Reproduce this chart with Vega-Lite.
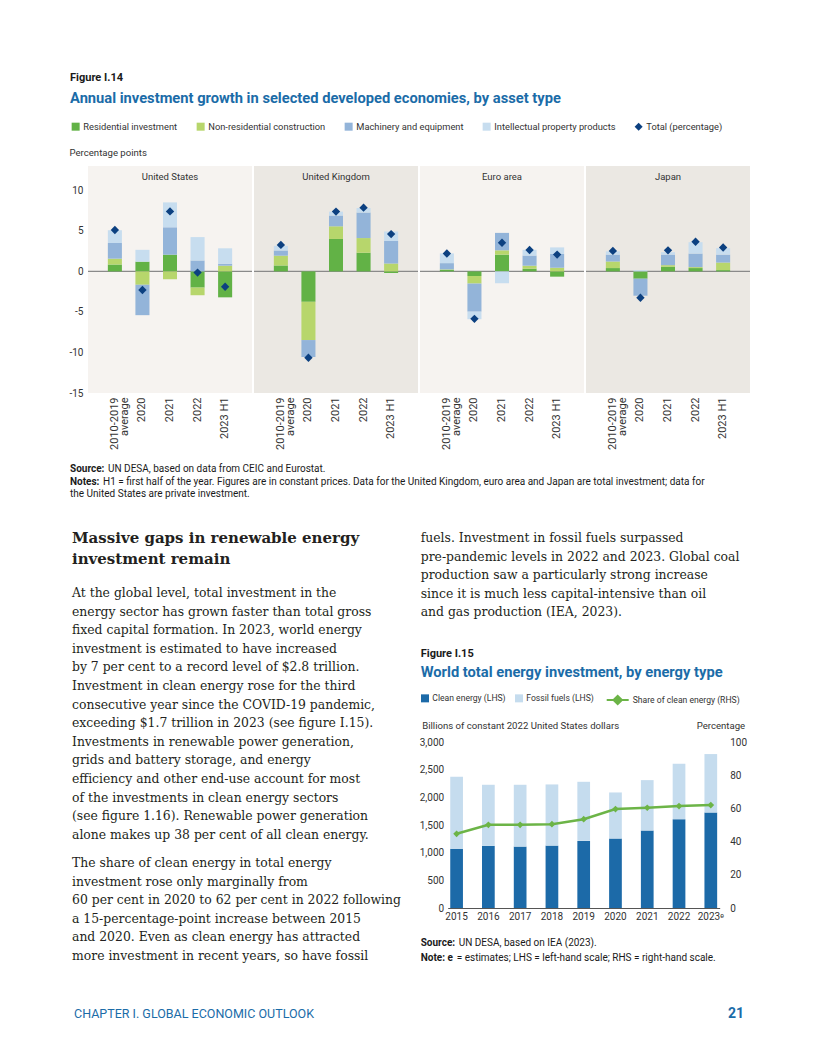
{
  "$schema": "https://vega.github.io/schema/vega-lite/v6.json",
  "background": "white",
  "padding": {"left": 68, "top": 71, "right": 4, "bottom": 4},
  "config": {
    "font": "Roboto, sans-serif",
    "view": {"stroke": null},
    "axis": {"domain": false, "ticks": false, "grid": false, "labelColor": "#333333", "titleColor": "#333333", "labelFontSize": 10, "titleFontSize": 9.6, "titleFontWeight": "normal"},
    "legend": {"labelColor": "#333333", "labelFontSize": 9.3}
  },
  "resolve": {"scale": {"color": "independent", "stroke": "independent"}, "legend": {"color": "independent", "stroke": "independent"}},
  "align": "each",
  "spacing": 0,
  "vconcat": [
    {"width": 1, "height": 1, "data": {"values": []}, "mark": "point",
     "title": {"text": "Figure I.14", "subtitle": "Annual investment growth in selected developed economies, by asset type", "orient": "top", "anchor": "start", "frame": "group", "dx": -18, "offset": 15.5, "fontSize": 11, "fontWeight": "bold", "color": "#1a1a1a", "subtitleFontSize": 14.7, "subtitleFontWeight": "bold", "subtitleColor": "#1b6ca8", "subtitlePadding": 8}},
    {
      "data": {"values": [
        {"country": "United States", "kind": "panel"},
        {"country": "United Kingdom", "kind": "panel"},
        {"country": "Euro area", "kind": "panel"},
        {"country": "Japan", "kind": "panel"},
        {"country": "United States", "kind": "bar", "period": "2010-2019 average", "type": "Residential investment", "value": 0.85},
        {"country": "United States", "kind": "bar", "period": "2010-2019 average", "type": "Non-residential construction", "value": 0.72},
        {"country": "United States", "kind": "bar", "period": "2010-2019 average", "type": "Machinery and equipment", "value": 1.93},
        {"country": "United States", "kind": "bar", "period": "2010-2019 average", "type": "Intellectual property products", "value": 1.58},
        {"country": "United States", "kind": "bar", "period": "2020", "type": "Residential investment", "value": 1.2},
        {"country": "United States", "kind": "bar", "period": "2020", "type": "Non-residential construction", "value": -1.65},
        {"country": "United States", "kind": "bar", "period": "2020", "type": "Machinery and equipment", "value": -3.75},
        {"country": "United States", "kind": "bar", "period": "2020", "type": "Intellectual property products", "value": 1.46},
        {"country": "United States", "kind": "bar", "period": "2021", "type": "Residential investment", "value": 2.06},
        {"country": "United States", "kind": "bar", "period": "2021", "type": "Non-residential construction", "value": -0.97},
        {"country": "United States", "kind": "bar", "period": "2021", "type": "Machinery and equipment", "value": 3.38},
        {"country": "United States", "kind": "bar", "period": "2021", "type": "Intellectual property products", "value": 3.07},
        {"country": "United States", "kind": "bar", "period": "2022", "type": "Residential investment", "value": -2.0},
        {"country": "United States", "kind": "bar", "period": "2022", "type": "Non-residential construction", "value": -0.94},
        {"country": "United States", "kind": "bar", "period": "2022", "type": "Machinery and equipment", "value": 1.35},
        {"country": "United States", "kind": "bar", "period": "2022", "type": "Intellectual property products", "value": 2.88},
        {"country": "United States", "kind": "bar", "period": "2023 H1", "type": "Residential investment", "value": -3.2},
        {"country": "United States", "kind": "bar", "period": "2023 H1", "type": "Non-residential construction", "value": 0.7},
        {"country": "United States", "kind": "bar", "period": "2023 H1", "type": "Machinery and equipment", "value": 0.25},
        {"country": "United States", "kind": "bar", "period": "2023 H1", "type": "Intellectual property products", "value": 1.9},
        {"country": "United Kingdom", "kind": "bar", "period": "2010-2019 average", "type": "Residential investment", "value": 0.73},
        {"country": "United Kingdom", "kind": "bar", "period": "2010-2019 average", "type": "Non-residential construction", "value": 1.21},
        {"country": "United Kingdom", "kind": "bar", "period": "2010-2019 average", "type": "Machinery and equipment", "value": 0.64},
        {"country": "United Kingdom", "kind": "bar", "period": "2010-2019 average", "type": "Intellectual property products", "value": 0.57},
        {"country": "United Kingdom", "kind": "bar", "period": "2020", "type": "Residential investment", "value": -3.75},
        {"country": "United Kingdom", "kind": "bar", "period": "2020", "type": "Non-residential construction", "value": -4.72},
        {"country": "United Kingdom", "kind": "bar", "period": "2020", "type": "Machinery and equipment", "value": -2.09},
        {"country": "United Kingdom", "kind": "bar", "period": "2021", "type": "Residential investment", "value": 4.0},
        {"country": "United Kingdom", "kind": "bar", "period": "2021", "type": "Non-residential construction", "value": 1.56},
        {"country": "United Kingdom", "kind": "bar", "period": "2021", "type": "Machinery and equipment", "value": 1.33},
        {"country": "United Kingdom", "kind": "bar", "period": "2021", "type": "Intellectual property products", "value": 0.48},
        {"country": "United Kingdom", "kind": "bar", "period": "2022", "type": "Residential investment", "value": 2.3},
        {"country": "United Kingdom", "kind": "bar", "period": "2022", "type": "Non-residential construction", "value": 1.81},
        {"country": "United Kingdom", "kind": "bar", "period": "2022", "type": "Machinery and equipment", "value": 3.15},
        {"country": "United Kingdom", "kind": "bar", "period": "2022", "type": "Intellectual property products", "value": 0.56},
        {"country": "United Kingdom", "kind": "bar", "period": "2023 H1", "type": "Residential investment", "value": -0.2},
        {"country": "United Kingdom", "kind": "bar", "period": "2023 H1", "type": "Non-residential construction", "value": 0.97},
        {"country": "United Kingdom", "kind": "bar", "period": "2023 H1", "type": "Machinery and equipment", "value": 2.78},
        {"country": "United Kingdom", "kind": "bar", "period": "2023 H1", "type": "Intellectual property products", "value": 1.17},
        {"country": "Euro area", "kind": "bar", "period": "2010-2019 average", "type": "Residential investment", "value": 0.2},
        {"country": "Euro area", "kind": "bar", "period": "2010-2019 average", "type": "Non-residential construction", "value": 0.05},
        {"country": "Euro area", "kind": "bar", "period": "2010-2019 average", "type": "Machinery and equipment", "value": 0.77},
        {"country": "Euro area", "kind": "bar", "period": "2010-2019 average", "type": "Intellectual property products", "value": 1.2},
        {"country": "Euro area", "kind": "bar", "period": "2020", "type": "Residential investment", "value": -0.57},
        {"country": "Euro area", "kind": "bar", "period": "2020", "type": "Non-residential construction", "value": -0.93},
        {"country": "Euro area", "kind": "bar", "period": "2020", "type": "Machinery and equipment", "value": -3.47},
        {"country": "Euro area", "kind": "bar", "period": "2020", "type": "Intellectual property products", "value": -0.93},
        {"country": "Euro area", "kind": "bar", "period": "2021", "type": "Residential investment", "value": 2.07},
        {"country": "Euro area", "kind": "bar", "period": "2021", "type": "Non-residential construction", "value": 0.53},
        {"country": "Euro area", "kind": "bar", "period": "2021", "type": "Machinery and equipment", "value": 2.15},
        {"country": "Euro area", "kind": "bar", "period": "2021", "type": "Intellectual property products", "value": -1.46},
        {"country": "Euro area", "kind": "bar", "period": "2022", "type": "Residential investment", "value": 0.33},
        {"country": "Euro area", "kind": "bar", "period": "2022", "type": "Non-residential construction", "value": 0.37},
        {"country": "Euro area", "kind": "bar", "period": "2022", "type": "Machinery and equipment", "value": 1.26},
        {"country": "Euro area", "kind": "bar", "period": "2022", "type": "Intellectual property products", "value": 0.7},
        {"country": "Euro area", "kind": "bar", "period": "2023 H1", "type": "Residential investment", "value": -0.65},
        {"country": "Euro area", "kind": "bar", "period": "2023 H1", "type": "Non-residential construction", "value": 0.45},
        {"country": "Euro area", "kind": "bar", "period": "2023 H1", "type": "Machinery and equipment", "value": 1.7},
        {"country": "Euro area", "kind": "bar", "period": "2023 H1", "type": "Intellectual property products", "value": 0.81},
        {"country": "Japan", "kind": "bar", "period": "2010-2019 average", "type": "Residential investment", "value": 0.41},
        {"country": "Japan", "kind": "bar", "period": "2010-2019 average", "type": "Non-residential construction", "value": 0.81},
        {"country": "Japan", "kind": "bar", "period": "2010-2019 average", "type": "Machinery and equipment", "value": 0.85},
        {"country": "Japan", "kind": "bar", "period": "2010-2019 average", "type": "Intellectual property products", "value": 0.4},
        {"country": "Japan", "kind": "bar", "period": "2020", "type": "Residential investment", "value": -0.9},
        {"country": "Japan", "kind": "bar", "period": "2020", "type": "Machinery and equipment", "value": -2.1},
        {"country": "Japan", "kind": "bar", "period": "2020", "type": "Intellectual property products", "value": 0.15},
        {"country": "Japan", "kind": "bar", "period": "2021", "type": "Residential investment", "value": 0.57},
        {"country": "Japan", "kind": "bar", "period": "2021", "type": "Non-residential construction", "value": 0.2},
        {"country": "Japan", "kind": "bar", "period": "2021", "type": "Machinery and equipment", "value": 1.3},
        {"country": "Japan", "kind": "bar", "period": "2021", "type": "Intellectual property products", "value": 0.3},
        {"country": "Japan", "kind": "bar", "period": "2022", "type": "Residential investment", "value": 0.41},
        {"country": "Japan", "kind": "bar", "period": "2022", "type": "Non-residential construction", "value": 0.12},
        {"country": "Japan", "kind": "bar", "period": "2022", "type": "Machinery and equipment", "value": 1.67},
        {"country": "Japan", "kind": "bar", "period": "2022", "type": "Intellectual property products", "value": 1.4},
        {"country": "Japan", "kind": "bar", "period": "2023 H1", "type": "Residential investment", "value": 0.16},
        {"country": "Japan", "kind": "bar", "period": "2023 H1", "type": "Non-residential construction", "value": 0.93},
        {"country": "Japan", "kind": "bar", "period": "2023 H1", "type": "Machinery and equipment", "value": 0.98},
        {"country": "Japan", "kind": "bar", "period": "2023 H1", "type": "Intellectual property products", "value": 0.8},
        {"country": "United States", "kind": "total", "period": "2010-2019 average", "value": 5.1},
        {"country": "United States", "kind": "total", "period": "2020", "value": -2.3},
        {"country": "United States", "kind": "total", "period": "2021", "value": 7.4},
        {"country": "United States", "kind": "total", "period": "2022", "value": -0.15},
        {"country": "United States", "kind": "total", "period": "2023 H1", "value": -1.9},
        {"country": "United Kingdom", "kind": "total", "period": "2010-2019 average", "value": 3.27},
        {"country": "United Kingdom", "kind": "total", "period": "2020", "value": -10.65},
        {"country": "United Kingdom", "kind": "total", "period": "2021", "value": 7.38},
        {"country": "United Kingdom", "kind": "total", "period": "2022", "value": 7.86},
        {"country": "United Kingdom", "kind": "total", "period": "2023 H1", "value": 4.6},
        {"country": "Euro area", "kind": "total", "period": "2010-2019 average", "value": 2.2},
        {"country": "Euro area", "kind": "total", "period": "2020", "value": -5.85},
        {"country": "Euro area", "kind": "total", "period": "2021", "value": 3.54},
        {"country": "Euro area", "kind": "total", "period": "2022", "value": 2.64},
        {"country": "Euro area", "kind": "total", "period": "2023 H1", "value": 2.07},
        {"country": "Japan", "kind": "total", "period": "2010-2019 average", "value": 2.53},
        {"country": "Japan", "kind": "total", "period": "2020", "value": -3.25},
        {"country": "Japan", "kind": "total", "period": "2021", "value": 2.6},
        {"country": "Japan", "kind": "total", "period": "2022", "value": 3.65},
        {"country": "Japan", "kind": "total", "period": "2023 H1", "value": 2.95}
      ]},
      "facet": {"column": {"field": "country", "type": "nominal", "sort": ["United States", "United Kingdom", "Euro area", "Japan"], "header": {"title": null, "labels": false}}},
      "spacing": 0,
      "spec": {
        "width": 164,
        "height": 227,
        "layer": [
          {
            "transform": [{"filter": "datum.kind === 'panel'"}],
            "mark": {"type": "rect"},
            "encoding": {
              "y": {"datum": -15, "type": "quantitative", "scale": {"domain": [-15, 13], "nice": false, "zero": false}, "axis": {"title": "Percentage points", "titleAngle": 0, "titleAlign": "left", "titleBaseline": "alphabetic", "titleX": -18, "titleY": -11, "values": [-15, -10, -5, 0, 5, 10], "labelExpr": "datum.value < 0 ? '-' + abs(datum.value) : '' + datum.value", "labelPadding": 4}},
              "y2": {"datum": 13},
              "color": {"condition": {"test": "datum.country === 'United Kingdom' || datum.country === 'Japan'", "value": "#ebe8e3"}, "value": "#f6f3f0"}
            }
          },
          {
            "transform": [{"filter": "datum.kind === 'panel'"}],
            "mark": {"type": "text", "fontSize": 9.5, "color": "#333333", "baseline": "middle"},
            "encoding": {"y": {"datum": 11.7, "type": "quantitative"}, "text": {"field": "country"}}
          },
          {
            "transform": [{"filter": "datum.kind === 'panel'"}],
            "mark": {"type": "rule", "color": "#8a8a8a", "strokeWidth": 1.2},
            "encoding": {"y": {"datum": 0, "type": "quantitative"}}
          },
          {
            "transform": [{"filter": "datum.kind === 'bar'"}],
            "mark": {"type": "bar"},
            "encoding": {
              "x": {"field": "period", "type": "nominal", "sort": ["2010-2019 average", "2020", "2021", "2022", "2023 H1"], "scale": {"paddingInner": 0.49, "paddingOuter": 0.72}, "axis": {"title": null, "labelAngle": -90, "labelExpr": "datum.value === '2010-2019 average' ? ['2010-2019', 'average'] : datum.label", "labelPadding": 4, "labelFontSize": 11, "labelLineHeight": 10.5}},
              "y": {"field": "value", "type": "quantitative", "stack": "zero"},
              "color": {
                "field": "type",
                "type": "nominal",
                "scale": {"domain": ["Residential investment", "Non-residential construction", "Machinery and equipment", "Intellectual property products", "Total (percentage)"], "range": ["#62b246", "#b7d66c", "#93b4d9", "#c7ddef", "#0c4080"]},
                "legend": {
                  "orient": "none", "legendX": -17, "legendY": -44, "direction": "horizontal", "title": null, "symbolType": "square", "symbolSize": 64, "symbolStrokeWidth": 0, "columnPadding": 18, "labelOffset": 3, "padding": 0,
                  "encode": {"symbols": {"update": {"shape": {"signal": "datum.value === 'Total (percentage)' ? 'diamond' : 'square'"}}}}
                }
              },
              "order": {"field": "type", "sort": "descending"}
            }
          },
          {
            "transform": [{"filter": "datum.kind === 'total'"}],
            "mark": {"type": "point", "shape": "diamond", "filled": true, "size": 70, "opacity": 1},
            "encoding": {
              "x": {"field": "period", "type": "nominal", "sort": ["2010-2019 average", "2020", "2021", "2022", "2023 H1"]},
              "y": {"field": "value", "type": "quantitative"},
              "color": {"datum": "Total (percentage)"}
            }
          }
        ]
      }
    },
    {
      "resolve": {"scale": {"color": "independent", "stroke": "independent"}, "legend": {"color": "independent", "stroke": "independent"}},
      "align": "each",
      "spacing": 0,
      "vconcat": [
        {"spacing": 3, "align": "each", "hconcat": [
          {"width": 1, "height": 1, "data": {"values": []}, "mark": "point", "title": {"text": "Source:", "orient": "bottom", "anchor": "start", "frame": "group", "dx": -18, "offset": 13, "fontSize": 10, "fontWeight": "bold", "color": "#1a1a1a"}},
          {"width": 1, "height": 1, "data": {"values": []}, "mark": "point", "title": {"text": "UN DESA, based on data from CEIC and Eurostat.", "orient": "bottom", "anchor": "start", "frame": "group", "offset": 13, "fontSize": 10, "fontWeight": "normal", "color": "#1a1a1a"}}
        ]},
        {"spacing": 3, "align": "each", "hconcat": [
          {"width": 1, "height": 1, "data": {"values": []}, "mark": "point", "title": {"text": "Notes:", "orient": "bottom", "anchor": "start", "frame": "group", "dx": -18, "offset": 1.5, "fontSize": 10, "fontWeight": "bold", "color": "#1a1a1a"}},
          {"width": 1, "height": 1, "data": {"values": []}, "mark": "point", "title": {"text": "H1 = first half of the year. Figures are in constant prices. Data for the United Kingdom, euro area and Japan are total investment; data for", "orient": "bottom", "anchor": "start", "frame": "group", "offset": 1.5, "fontSize": 10, "fontWeight": "normal", "color": "#1a1a1a"}}
        ]},
        {"width": 1, "height": 1, "data": {"values": []}, "mark": "point", "title": {"text": "the United States are private investment.", "orient": "bottom", "anchor": "start", "frame": "group", "dx": -18, "offset": 0.5, "fontSize": 10, "fontWeight": "normal", "color": "#1a1a1a"}}
      ]
    },
    {
      "resolve": {"scale": {"color": "independent", "stroke": "independent"}, "legend": {"color": "independent", "stroke": "independent"}},
      "align": "each",
      "spacing": 10.7,
      "hconcat": [
        {
          "align": "each",
          "spacing": 0,
          "vconcat": [
            {"width": 320, "height": 1, "data": {"values": []}, "mark": "point", "title": {"text": ["Massive gaps in renewable energy", "investment remain"], "orient": "bottom", "anchor": "start", "frame": "group", "dx": -16, "offset": 31, "font": "DejaVu Serif", "fontSize": 15, "fontWeight": "bold", "color": "#231f20", "lineHeight": 21}},
            {"width": 320, "height": 1, "data": {"values": []}, "mark": "point", "title": {"text": ["At the global level, total investment in the", "energy sector has grown faster than total gross", "fixed capital formation. In 2023, world energy", "investment is estimated to have increased", "by 7 per cent to a record level of $2.8 trillion.", "Investment in clean energy rose for the third", "consecutive year since the COVID-19 pandemic,", "exceeding $1.7 trillion in 2023 (see figure I.15).", "Investments in renewable power generation,", "grids and battery storage, and energy", "efficiency and other end-use account for most", "of the investments in clean energy sectors", "(see figure 1.16). Renewable power generation", "alone makes up 38 per cent of all clean energy."], "orient": "bottom", "anchor": "start", "frame": "group", "dx": -16, "offset": 19, "font": "DejaVu Serif", "fontSize": 12.4, "fontWeight": "normal", "color": "#231f20", "lineHeight": 18.6}},
            {"width": 320, "height": 1, "data": {"values": []}, "mark": "point", "title": {"text": ["The share of clean energy in total energy", "investment rose only marginally from", "60 per cent in 2020 to 62 per cent in 2022 following", "a 15-percentage-point increase between 2015", "and 2020. Even as clean energy has attracted", "more investment in recent years, so have fossil"], "orient": "bottom", "anchor": "start", "frame": "group", "dx": -16, "offset": 14, "font": "DejaVu Serif", "fontSize": 12.4, "fontWeight": "normal", "color": "#231f20", "lineHeight": 18.6}}
          ]
        },
        {
          "resolve": {"scale": {"color": "independent", "stroke": "independent"}, "legend": {"color": "independent", "stroke": "independent"}},
          "align": "each",
          "spacing": 29,
          "vconcat": [
            {"width": 1, "height": 1, "data": {"values": []}, "mark": "point", "title": {"text": ["fuels. Investment in fossil fuels surpassed", "pre-pandemic levels in 2022 and 2023. Global coal", "production saw a particularly strong increase", "since it is much less capital-intensive than oil", "and gas production (IEA, 2023)."], "orient": "bottom", "anchor": "start", "frame": "group", "dx": -27, "offset": 32, "font": "DejaVu Serif", "fontSize": 12.4, "fontWeight": "normal", "color": "#231f20", "lineHeight": 18.6}},
            {
              "resolve": {"scale": {"color": "independent", "stroke": "independent"}, "legend": {"color": "independent", "stroke": "independent"}},
              "align": "each",
              "spacing": 0,
              "vconcat": [
                {"width": 1, "height": 1, "data": {"values": []}, "mark": "point",
                 "title": {"text": "Figure I.15", "subtitle": "World total energy investment, by energy type", "orient": "top", "anchor": "start", "frame": "group", "dx": -27, "offset": 7, "fontSize": 11, "fontWeight": "bold", "color": "#1a1a1a", "subtitleFontSize": 14.7, "subtitleFontWeight": "bold", "subtitleColor": "#1b6ca8", "subtitlePadding": 6}},
                {
                  "width": 272,
                  "height": 166,
                  "layer": [
                    {
                      "data": {"values": [
                        {"year": "2015", "type": "Clean energy (LHS)", "value": 1068},
                        {"year": "2015", "type": "Fossil fuels (LHS)", "value": 1304},
                        {"year": "2016", "type": "Clean energy (LHS)", "value": 1122},
                        {"year": "2016", "type": "Fossil fuels (LHS)", "value": 1105},
                        {"year": "2017", "type": "Clean energy (LHS)", "value": 1110},
                        {"year": "2017", "type": "Fossil fuels (LHS)", "value": 1117},
                        {"year": "2018", "type": "Clean energy (LHS)", "value": 1128},
                        {"year": "2018", "type": "Fossil fuels (LHS)", "value": 1105},
                        {"year": "2019", "type": "Clean energy (LHS)", "value": 1213},
                        {"year": "2019", "type": "Fossil fuels (LHS)", "value": 1068},
                        {"year": "2020", "type": "Clean energy (LHS)", "value": 1255},
                        {"year": "2020", "type": "Fossil fuels (LHS)", "value": 833},
                        {"year": "2021", "type": "Clean energy (LHS)", "value": 1400},
                        {"year": "2021", "type": "Fossil fuels (LHS)", "value": 911},
                        {"year": "2022", "type": "Clean energy (LHS)", "value": 1605},
                        {"year": "2022", "type": "Fossil fuels (LHS)", "value": 1002},
                        {"year": "2023ᵉ", "type": "Clean energy (LHS)", "value": 1726},
                        {"year": "2023ᵉ", "type": "Fossil fuels (LHS)", "value": 1056}
                      ]},
                      "mark": {"type": "bar"},
                      "encoding": {
                        "x": {"field": "year", "type": "nominal", "sort": null, "scale": {"paddingInner": 0.6, "paddingOuter": 0.08}, "axis": {"title": null, "labelAngle": 0, "domain": true, "domainColor": "#555555", "domainWidth": 1, "labelPadding": 3}},
                        "y": {"field": "value", "type": "quantitative", "stack": "zero", "scale": {"domain": [0, 3000], "nice": false}, "axis": {"title": "Billions of constant 2022 United States dollars", "titleAngle": 0, "titleAlign": "left", "titleBaseline": "alphabetic", "titleX": -26, "titleY": -14, "values": [0, 500, 1000, 1500, 2000, 2500, 3000], "labelExpr": "format(datum.value, ',')", "labelPadding": 4}},
                        "color": {"field": "type", "type": "nominal", "scale": {"domain": ["Clean energy (LHS)", "Fossil fuels (LHS)"], "range": ["#1c6aa8", "#c5dcee"]}, "legend": {"orient": "none", "legendX": -27, "legendY": -48, "direction": "horizontal", "title": null, "symbolType": "square", "symbolSize": 64, "symbolStrokeWidth": 0, "columnPadding": 9, "labelOffset": 3, "labelFontSize": 8.6, "padding": 0}},
                        "order": {"field": "type", "sort": "ascending"}
                      }
                    },
                    {
                      "data": {"values": [
                        {"year": "2015", "share": 44.7},
                        {"year": "2016", "share": 50.1},
                        {"year": "2017", "share": 50.1},
                        {"year": "2018", "share": 50.5},
                        {"year": "2019", "share": 53.5},
                        {"year": "2020", "share": 59.6},
                        {"year": "2021", "share": 60.4},
                        {"year": "2022", "share": 61.4},
                        {"year": "2023ᵉ", "share": 62.0}
                      ]},
                      "encoding": {
                        "x": {"field": "year", "type": "nominal", "sort": null},
                        "y": {"field": "share", "type": "quantitative", "scale": {"domain": [0, 100], "nice": false}, "axis": {"orient": "right", "title": "Percentage", "titleAngle": 0, "titleAlign": "right", "titleBaseline": "alphabetic", "titleX": 25, "titleY": -14, "values": [0, 20, 40, 60, 80, 100], "labelPadding": 10}}
                      },
                      "layer": [
                        {
                          "mark": {"type": "line", "strokeWidth": 2.5},
                          "encoding": {
                            "stroke": {
                              "datum": "Share of clean energy (RHS)",
                              "scale": {"range": ["#6cb447"]},
                              "legend": {
                                "orient": "none", "legendX": 158, "legendY": -54, "direction": "horizontal", "title": null, "symbolType": "M-1,0H1M-0.38,0L0,-0.38L0.38,0L0,0.38Z", "symbolSize": 484, "symbolStrokeWidth": 2, "symbolFillColor": "#6cb447", "labelOffset": 3, "labelFontSize": 8.6, "padding": 0,
                                "encode": {"symbols": {"update": {"fill": {"value": "#6cb447"}}}}
                              }
                            }
                          }
                        },
                        {"mark": {"type": "point", "shape": "diamond", "filled": true, "size": 45, "opacity": 1, "color": "#6cb447"}}
                      ]
                    }
                  ],
                  "resolve": {"scale": {"y": "independent"}}
                },
                {
                  "align": "each",
                  "spacing": 0,
                  "vconcat": [
                    {"spacing": 3, "align": "each", "hconcat": [
                      {"width": 1, "height": 1, "data": {"values": []}, "mark": "point", "title": {"text": "Source:", "orient": "bottom", "anchor": "start", "frame": "group", "dx": -27, "offset": 16, "fontSize": 10, "fontWeight": "bold", "color": "#1a1a1a"}},
                      {"width": 1, "height": 1, "data": {"values": []}, "mark": "point", "title": {"text": "UN DESA, based on IEA (2023).", "orient": "bottom", "anchor": "start", "frame": "group", "offset": 16, "fontSize": 10, "fontWeight": "normal", "color": "#1a1a1a"}}
                    ]},
                    {"spacing": 3, "align": "each", "hconcat": [
                      {"width": 1, "height": 1, "data": {"values": []}, "mark": "point", "title": {"text": "Note: e", "orient": "bottom", "anchor": "start", "frame": "group", "dx": -27, "offset": 3.5, "fontSize": 10, "fontWeight": "bold", "color": "#1a1a1a"}},
                      {"width": 1, "height": 1, "data": {"values": []}, "mark": "point", "title": {"text": "= estimates; LHS = left-hand scale; RHS = right-hand scale.", "orient": "bottom", "anchor": "start", "frame": "group", "offset": 3.5, "fontSize": 10, "fontWeight": "normal", "color": "#1a1a1a"}}
                    ]}
                  ]
                }
              ]
            }
          ]
        }
      ]
    },
    {
      "spacing": 4,
      "align": "each",
      "hconcat": [
        {"width": 636, "height": 1, "data": {"values": []}, "mark": "point", "title": {"text": "CHAPTER I. GLOBAL ECONOMIC OUTLOOK", "orient": "bottom", "anchor": "start", "frame": "group", "dx": -14, "offset": 43.5, "fontSize": 12.5, "fontWeight": "normal", "color": "#1b6ca8"}},
        {"width": 1, "height": 1, "data": {"values": []}, "mark": "point", "title": {"text": "21", "orient": "bottom", "anchor": "start", "frame": "group", "offset": 42.5, "fontSize": 14, "fontWeight": "bold", "color": "#1b6ca8"}}
      ]
    }
  ]
}
